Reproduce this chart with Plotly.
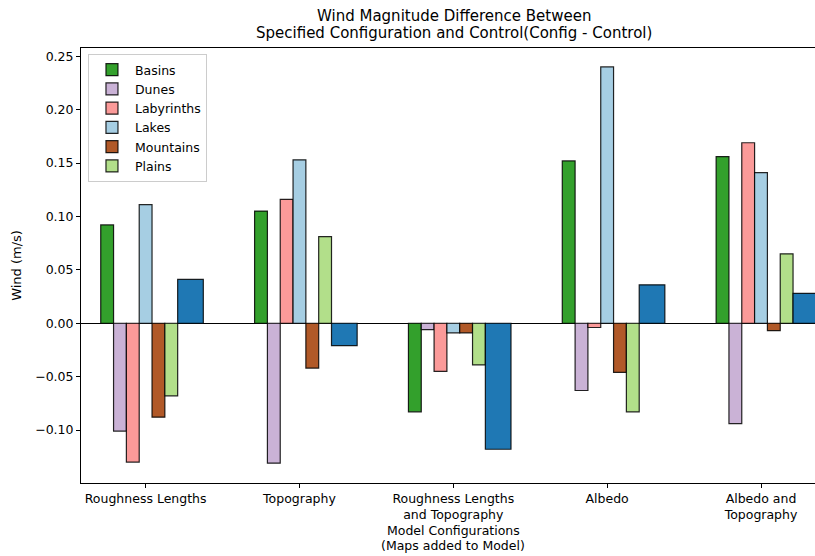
import numpy as np
import plotly.graph_objects as go

configs = ["Roughness Lengths", "Topography", "Roughness Lengths<br>and Topography",
           "Albedo", "Albedo and<br>Topography"]
series_names = ["Basins", "Dunes", "Labyrinths", "Lakes", "Mountains", "Plains"]
basins     = [0.092, 0.105, -0.083, 0.152, 0.156]
dunes      = [-0.101, -0.131, -0.006, -0.063, -0.094]
labyrinths = [-0.130, 0.116, -0.045, -0.004, 0.169]
lakes      = [0.111, 0.153, -0.009, 0.240, 0.141]
mountains  = [-0.088, -0.042, -0.009, -0.046, -0.007]
plains     = [-0.068, 0.081, -0.039, -0.083, 0.065]
combined   = [0.041, -0.021, -0.118, 0.036, 0.028]

colors = ["#33a02c", "#cab2d6", "#fb9a99", "#a6cee3", "#b15928", "#b2df8a"]
combined_color = "#1f78b4"

title_lines = ["Wind Magnitude Difference Between",
               "Specified Configuration and Control(Config - Control)"]
xtitle_lines = ["Model Configurations", "(Maps added to Model)"]

values = [basins, dunes, labyrinths, lakes, mountains, plains]
w = 1 / 12
xs = np.arange(len(configs))

fig = go.Figure()
for i, (name, vals, col) in enumerate(zip(series_names, values, colors)):
    fig.add_trace(go.Bar(
        x=xs + (i - 3) * w, y=vals, width=w, name=name,
        marker=dict(color=col, line=dict(color="rgba(0,0,0,0.85)", width=1.2)),
    ))
fig.add_trace(go.Bar(
    x=xs + 3.5 * w, y=combined, width=2 * w, name="All", showlegend=False,
    marker=dict(color=combined_color, line=dict(color="rgba(0,0,0,0.85)", width=1.2)),
))

font = "DejaVu Sans, sans-serif"
H = 556
PH = H - 48 - 73
annotations = []
for line, ypx in zip(title_lines, [15.5, 33]):
    annotations.append(dict(text=line, xref="paper", yref="paper", x=0.508,
                            y=1 + (48 - ypx) / PH,
                            xanchor="center", yanchor="middle", showarrow=False,
                            font=dict(size=15, family=font, color="black")))
for line, ypx in zip(xtitle_lines, [530.5, 545.5]):
    annotations.append(dict(text=line, xref="paper", yref="paper", x=0.507,
                            y=1 - (ypx - 48) / PH,
                            xanchor="center", yanchor="middle", showarrow=False,
                            font=dict(size=12.5, family=font, color="black")))

fig.update_layout(
    width=815, height=556,
    margin=dict(l=81, r=0, t=48, b=73),
    paper_bgcolor="white", plot_bgcolor="white",
    barmode="overlay",
    font=dict(family=font, size=12, color="black"),
    annotations=annotations,
    legend=dict(
        x=0.0095, y=0.986, xanchor="left", yanchor="top",
        bgcolor="white", bordercolor="#cccccc", borderwidth=1,
        font=dict(size=12.5), tracegroupgap=0, itemwidth=36,
    ),
    showlegend=True,
)
fig.update_xaxes(
    range=[-0.42, 4.351], tickmode="array", tickvals=xs, ticktext=configs,
    showgrid=False, zeroline=False, showline=True, linecolor="black", linewidth=1,
    mirror=True, ticks="outside", ticklen=4, tickcolor="black",
    tickfont=dict(size=12.5),
)
fig.update_yaxes(
    range=[-0.1496, 0.2577], tickmode="array",
    tickvals=[-0.10, -0.05, 0, 0.05, 0.10, 0.15, 0.20, 0.25],
    ticktext=["−0.10", "−0.05", "0.00", "0.05", "0.10", "0.15", "0.20", "0.25"],
    showgrid=False, zeroline=True, zerolinecolor="black", zerolinewidth=1,
    showline=True, linecolor="black", linewidth=1,
    ticks="outside", ticklen=4, tickcolor="black",
    title=dict(text="Wind (m/s)", standoff=10, font=dict(size=13)),
    tickfont=dict(size=12.5),
)
fig.write_html("out.html")
